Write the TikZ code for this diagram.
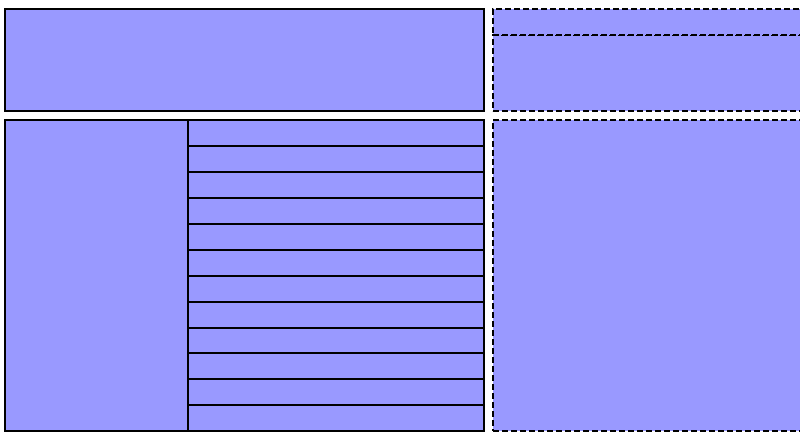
\documentclass[tikz,border=0pt]{standalone}
\usepackage{xcolor}
\usepackage{tikz}
\usetikzlibrary{positioning}
\definecolor{panelblue}{RGB}{153,153,255}
\tikzset{
  panel/.style={draw=black,fill=panelblue,line width=2pt,inner sep=0pt,anchor=north west},
  dashpanel/.style={panel,dash pattern=on 6pt off 3pt}
}
\begin{document}
\begin{tikzpicture}[x=1pt,y=-1pt]
\useasboundingbox (0,0) rectangle (800,432);
\clip (0,0) rectangle (800,432);
\begin{scope}[shift={(-0.8,-0.8)}]
% upper band
\node[panel,minimum width=479pt,minimum height=102pt] (head) at (5,9) {};
\node[dashpanel,minimum width=320pt,minimum height=76pt] (sidebody) at (493,35) {};
\node[dashpanel,minimum width=320pt,minimum height=26pt] (sidehead) at (493,9) {};
% lower band
\node[panel,minimum width=183pt,minimum height=311pt] (labels) at (5,120) {};
\foreach \i in {1,...,12}{
  \node[panel,minimum width=296pt,minimum height=25.92pt] (row\i) at (188,{120+(\i-1)*25.92}) {};
}
\node[dashpanel,minimum width=320pt,minimum height=311pt] (side) at (493,120) {};
\end{scope}
\end{tikzpicture}
\end{document}
